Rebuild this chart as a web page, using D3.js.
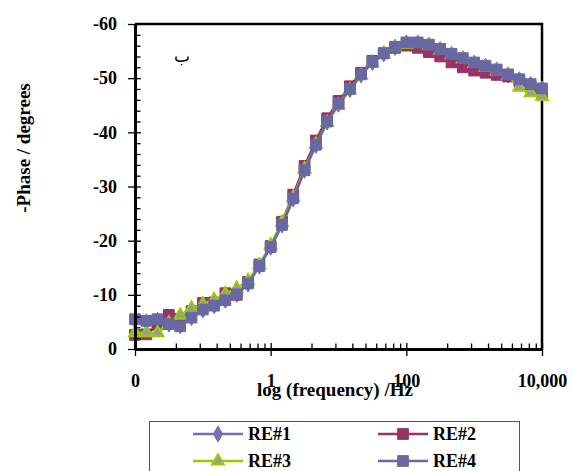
<!DOCTYPE html>
<html>
<head>
<meta charset="utf-8">
<script src="https://cdn.jsdelivr.net/npm/d3@7"></script>
<style>
  body { margin: 0; background: #fff; }
  text { font-family: "Liberation Serif", "Times New Roman", serif; font-weight: bold; }
</style>
</head>
<body>
<div id="chart"></div>
<script>

// sampled frequencies, Hz
var frequencies = [0.01, 0.0147, 0.0215, 0.0316, 0.0464, 0.0681, 0.1, 0.147, 0.215, 0.316, 0.464, 0.681,
                   1, 1.47, 2.15, 3.16, 4.64, 6.81, 10, 14.7, 21.5, 31.6, 46.4, 68.1,
                   100, 147, 215, 316, 464, 681, 1000, 1470, 2150, 3160, 4640, 6810, 10000];

// phase, degrees
var re1 = [-5.3, -5.0, -5.3, -4.6, -4.3, -5.8, -7.2, -8.0, -9.0, -10.1, -12.0, -15.3,
           -18.8, -22.9, -27.7, -33.0, -37.6, -41.9, -45.2, -47.9, -50.6, -52.9, -54.5, -55.7,
           -56.5, -56.5, -56.1, -55.3, -54.4, -53.6, -52.8, -52.2, -51.5, -50.6, -49.7, -48.8, -48.0];
var re2 = [-2.6, -2.7, -4.5, -6.3, -5.6, -7.0, -8.5, -8.6, -10.3, -10.0, -12.4, -15.6,
           -19.0, -23.5, -28.5, -33.8, -38.5, -42.6, -45.8, -48.5, -51.0, -53.2, -54.6, -55.6,
           -56.0, -55.6, -54.8, -54.0, -52.9, -52.0, -51.4, -51.0, -50.6, -50.3, -49.4, -48.4, -47.0];
var re3 = [-3.0, -3.0, -3.0, -4.8, -6.2, -7.5, -8.3, -9.1, -10.2, -11.2, -12.6, -15.5,
           -19.2, -23.4, -28.0, -33.2, -37.8, -41.8, -45.0, -47.8, -50.5, -52.8, -54.5, -55.6,
           -56.2, -56.4, -56.0, -55.2, -54.3, -53.5, -52.7, -52.0, -51.3, -50.5, -48.3, -47.3, -46.6];
var re4 = [-5.5, -5.2, -5.5, -4.6, -4.2, -5.8, -7.3, -8.0, -9.0, -10.1, -12.1, -15.3,
           -18.8, -22.9, -27.8, -33.0, -37.7, -42.0, -45.3, -48.0, -50.7, -53.0, -54.6, -55.8,
           -56.6, -56.6, -56.2, -55.4, -54.5, -53.7, -52.9, -52.3, -51.6, -50.7, -49.8, -48.9, -48.1];

var seriesNames = ["RE#1", "RE#2", "RE#3", "RE#4"];

var xMajorTicks = [0.01, 1, 100, 10000];
var xTickLabels = ["0", "1", "100", "10,000"];
var xMinorSteps = [4, 9, 16, 25, 36, 49, 64, 81];
var yMajorTicks = [0, -10, -20, -30, -40, -50, -60];
var yMinorTicks = [-2, -4, -6, -8, -12, -14, -16, -18, -22, -24, -26, -28, -32, -34, -36, -38,
                   -42, -44, -46, -48, -52, -54, -56, -58];


PhaseVis = function (_parentElement, _data) {
  this.parentElement = _parentElement;
  this.data = _data;
  this.displayData = [];

  this.plot = { left: 135, top: 24, right: 542, bottom: 349 };
  this.width = 573;
  this.height = 471;

  this.styles = [
    { color: "#7272b4", fill: "#7272b4", symbol: d3.symbolDiamond, size: 75 },
    { color: "#993366", fill: "#993366", symbol: d3.symbolSquare, size: 115 },
    { color: "#99cc00", fill: "#9a9a9a", symbol: d3.symbolTriangle, size: 60 },
    { color: "#6868a4", fill: "#6868a4", symbol: d3.symbolSquare, size: 115 }
  ];

  this.initVis();
}

PhaseVis.prototype.initVis = function () {
  var that = this;

  this.svg = this.parentElement.append("svg")
      .attr("width", this.width)
      .attr("height", this.height);

  this.x = d3.scaleLog()
      .domain([xMajorTicks[0], xMajorTicks[xMajorTicks.length - 1]])
      .range([this.plot.left, this.plot.right]);

  this.y = d3.scaleLinear()
      .domain([0, -60])
      .range([this.plot.bottom, this.plot.top]);

  // top and right frame
  this.svg.append("path")
      .attr("d", "M" + this.plot.left + "," + this.plot.top + "H" + this.plot.right + "V" + this.plot.bottom)
      .attr("fill", "none")
      .attr("stroke", "#000")
      .attr("stroke-width", 2.5);

  this.wrangleData();
  this.updateVis();
  this.drawAxes();
  this.drawLegend();
}

PhaseVis.prototype.wrangleData = function () {
  this.displayData = this.data.map(function (s) {
    return s.values.map(function (v, i) {
      return { f: frequencies[i], phase: v };
    });
  });
}

PhaseVis.prototype.updateVis = function () {
  var that = this;

  var line = d3.line()
      .x(function (d) { return that.x(d.f); })
      .y(function (d) { return that.y(d.phase); });

  var groups = this.svg.append("g")
      .selectAll("g.series")
      .data(this.displayData)
      .enter()
      .append("g")
      .attr("class", "series");

  groups.append("path")
      .attr("d", line)
      .attr("fill", "none")
      .attr("stroke", function (d, i) { return that.styles[i].color; })
      .attr("stroke-width", 2.5);

  groups.each(function (d, i) {
    var st = that.styles[i];
    d3.select(this).selectAll("path.marker")
        .data(d)
        .enter()
        .append("path")
        .attr("class", "marker")
        .attr("d", d3.symbol().type(st.symbol).size(st.size))
        .attr("transform", function (p) {
          return "translate(" + that.x(p.f) + "," + that.y(p.phase) + ")";
        })
        .attr("fill", st.fill)
        .attr("stroke", st.color)
        .attr("stroke-width", i === 2 ? 2 : 1);
  });

  this.svg.append("text")
      .attr("x", 182)
      .attr("y", 62)
      .attr("text-anchor", "middle")
      .style("font-family", "DejaVu Sans")
      .style("font-weight", "normal")
      .style("font-size", "17px")
      .text("ب");
}

PhaseVis.prototype.drawAxes = function () {
  var that = this;
  var p = this.plot;

  var minor = [];
  xMajorTicks.slice(0, -1).forEach(function (m) {
    xMinorSteps.forEach(function (k) { minor.push(m * k); });
  });

  // x axis: inner minor ticks, crossing major ticks, labels
  this.svg.append("g")
      .attr("transform", "translate(0," + p.bottom + ")")
      .call(d3.axisBottom(this.x).tickValues(minor).tickSizeInner(-5.5).tickSizeOuter(0).tickFormat(""));
  this.svg.append("g")
      .attr("transform", "translate(0," + p.bottom + ")")
      .call(d3.axisBottom(this.x).tickValues(xMajorTicks).tickSizeInner(-6).tickSizeOuter(0).tickFormat(""));
  var xAxis = this.svg.append("g")
      .attr("class", "x-axis")
      .attr("transform", "translate(0," + p.bottom + ")")
      .call(d3.axisBottom(this.x)
        .tickValues(xMajorTicks)
        .tickSizeInner(7)
        .tickSizeOuter(0)
        .tickPadding(18)
        .tickFormat(function (d, i) { return xTickLabels[i]; }));

  // y axis
  this.svg.append("g")
      .attr("transform", "translate(" + p.left + ",0)")
      .call(d3.axisLeft(this.y).tickValues(yMinorTicks).tickSizeInner(-5.5).tickSizeOuter(0).tickFormat(""));
  this.svg.append("g")
      .attr("transform", "translate(" + p.left + ",0)")
      .call(d3.axisLeft(this.y).tickValues(yMajorTicks).tickSizeInner(-6).tickSizeOuter(0).tickFormat(""));
  var yAxis = this.svg.append("g")
      .attr("class", "y-axis")
      .attr("transform", "translate(" + p.left + ",0)")
      .call(d3.axisLeft(this.y)
        .tickValues(yMajorTicks)
        .tickSizeInner(7)
        .tickSizeOuter(0)
        .tickPadding(11)
        .tickFormat(function (d) { return d === 0 ? "0" : String(d); }));

  this.svg.selectAll(".domain").attr("stroke", "#000").attr("stroke-width", 2.5);
  this.svg.selectAll(".tick line").attr("stroke", "#000").attr("stroke-width", 1.3);
  this.svg.selectAll(".tick text")
      .attr("fill", "#000")
      .style("font-family", "Liberation Serif")
      .style("font-weight", "bold")
      .style("font-size", "18px");

  this.svg.append("text")
      .attr("x", 335)
      .attr("y", 396)
      .attr("text-anchor", "middle")
      .style("font-size", "19px")
      .text("log (frequency) /Hz");

  this.svg.append("text")
      .attr("transform", "translate(30,148) rotate(-90)")
      .attr("text-anchor", "middle")
      .style("font-size", "19px")
      .text("-Phase / degrees");
}

PhaseVis.prototype.drawLegend = function () {
  var that = this;

  this.svg.append("rect")
      .attr("x", 149.5)
      .attr("y", 421.5)
      .attr("width", 370)
      .attr("height", 70)
      .attr("fill", "none")
      .attr("stroke", "#555")
      .attr("stroke-width", 1);

  var spots = [
    { x: 193, y: 434 }, { x: 378, y: 434 },
    { x: 193, y: 461 }, { x: 378, y: 461 }
  ];

  var items = this.svg.append("g")
      .selectAll("g.legend-item")
      .data(seriesNames)
      .enter()
      .append("g")
      .attr("class", "legend-item")
      .attr("transform", function (d, i) { return "translate(" + spots[i].x + "," + spots[i].y + ")"; });

  items.append("line")
      .attr("x1", 0).attr("x2", 50)
      .attr("stroke", function (d, i) { return that.styles[i].color; })
      .attr("stroke-width", 2.5);

  items.append("path")
      .attr("transform", "translate(25,0)")
      .attr("d", function (d, i) { return d3.symbol().type(that.styles[i].symbol).size(that.styles[i].size)(); })
      .attr("fill", function (d, i) { return that.styles[i].fill; })
      .attr("stroke", function (d, i) { return that.styles[i].color; })
      .attr("stroke-width", function (d, i) { return i === 2 ? 2 : 1; });

  items.append("text")
      .attr("x", 55)
      .attr("y", 6)
      .style("font-size", "18px")
      .text(function (d) { return d; });
}

var chartData = [
  { name: seriesNames[0], values: re1 },
  { name: seriesNames[1], values: re2 },
  { name: seriesNames[2], values: re3 },
  { name: seriesNames[3], values: re4 }
];

var phaseVis = new PhaseVis(d3.select("#chart"), chartData);

</script>
</body>
</html>
